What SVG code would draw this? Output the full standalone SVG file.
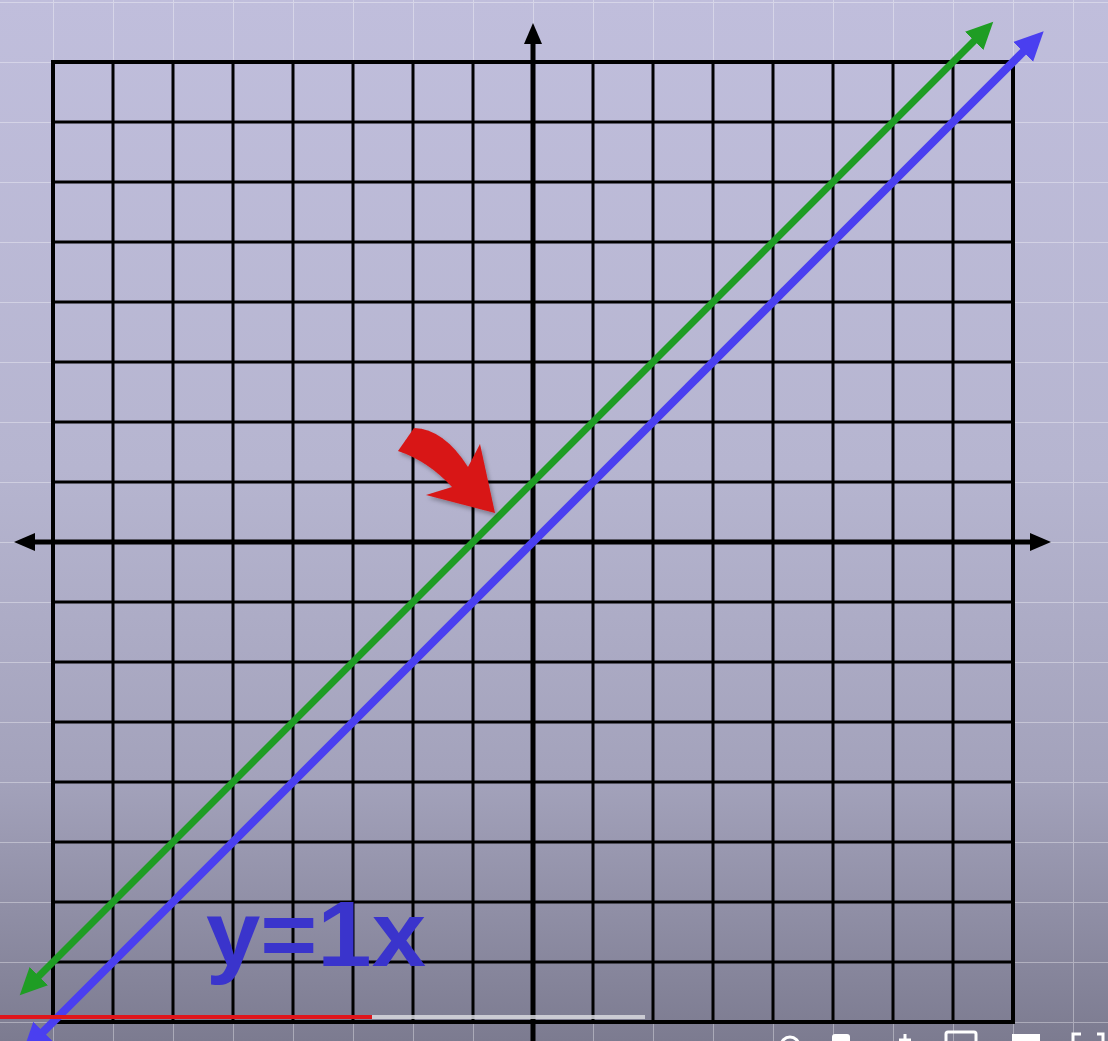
<svg xmlns="http://www.w3.org/2000/svg" width="1108" height="1041" viewBox="0 0 1108 1041">
<defs>
<linearGradient id="bg" x1="0" y1="0" x2="0" y2="1">
<stop offset="0" stop-color="#c0bedc"/>
<stop offset="0.45" stop-color="#b6b5d0"/>
<stop offset="0.75" stop-color="#a3a2bb"/>
<stop offset="1" stop-color="#7c7b90"/>
</linearGradient>
<pattern id="bgGrid" x="53" y="2" width="60" height="60" patternUnits="userSpaceOnUse">
<path d="M0,0 V60 M0,0 H60" fill="none" stroke="#ffffff" stroke-opacity="0.35" stroke-width="2"/>
</pattern>
<marker id="axisHead" viewBox="0 -10 22 20" refX="2" refY="0" markerWidth="22" markerHeight="20" markerUnits="userSpaceOnUse" orient="auto-start-reverse">
<path d="M0,-9 L21,0 L0,9 z" fill="#000"/>
</marker>
<marker id="greenHead" viewBox="0 -14 28 28" refX="4" refY="0" markerWidth="28" markerHeight="28" markerUnits="userSpaceOnUse" orient="auto-start-reverse">
<path d="M0,-13 L27,0 L0,13 z" fill="#1f9d24"/>
</marker>
<marker id="blueHead" viewBox="0 -15 30 30" refX="4" refY="0" markerWidth="30" markerHeight="30" markerUnits="userSpaceOnUse" orient="auto-start-reverse">
<path d="M0,-14 L29,0 L0,14 z" fill="#4a3ff0"/>
</marker>
<filter id="shadow" x="-20%" y="-20%" width="140%" height="140%">
<feDropShadow dx="2" dy="3" stdDeviation="2" flood-color="#000" flood-opacity="0.3"/>
</filter>
<style>
.grid{fill:none;stroke:#000;stroke-width:3}
.frame{fill:none;stroke:#000;stroke-width:4}
.axis{fill:none;stroke:#000;stroke-width:5}
.label{font-family:"Liberation Sans",Arial,sans-serif;font-weight:bold;fill:#3a34cc}
.ctrl{fill:none;stroke:#ffffff;stroke-width:3}
</style>
</defs>

<g id="background">
<rect x="0" y="0" width="1108" height="1041" fill="url(#bg)"/>
<rect x="0" y="0" width="1108" height="1041" fill="url(#bgGrid)"/>
</g>

<g id="grid">
<path class="grid" d="M113,62V1022 M173,62V1022 M233,62V1022 M293,62V1022 M353,62V1022 M413,62V1022 M473,62V1022 M593,62V1022 M653,62V1022 M713,62V1022 M773,62V1022 M833,62V1022 M893,62V1022 M953,62V1022
M53,122H1013 M53,182H1013 M53,242H1013 M53,302H1013 M53,362H1013 M53,422H1013 M53,482H1013 M53,602H1013 M53,662H1013 M53,722H1013 M53,782H1013 M53,842H1013 M53,902H1013 M53,962H1013"/>
<rect class="frame" x="53" y="62" width="960" height="960"/>
</g>

<g id="axes">
<line id="x-axis" class="axis" x1="33" y1="542" x2="1032" y2="542" marker-start="url(#axisHead)" marker-end="url(#axisHead)"/>
<line id="y-axis" class="axis" x1="533" y1="1041" x2="533" y2="42" marker-end="url(#axisHead)"/>
</g>

<g id="connectors">
<line id="green-line" x1="36" y1="979" x2="977" y2="38" stroke="#1f9d24" stroke-width="7" marker-start="url(#greenHead)" marker-end="url(#greenHead)"/>
<line id="blue-line" x1="40.4" y1="1034.6" x2="1026" y2="49" stroke="#4a3ff0" stroke-width="8" marker-start="url(#blueHead)" marker-end="url(#blueHead)"/>
</g>

<g id="pointer">
<path d="M414,428 Q444,429 468,467 L480,444 L495,513 L426,495 L452,487 Q428,461 398,451 Z" fill="#d81616" filter="url(#shadow)"/>
</g>

<g id="equation">
<text class="label" x="206" y="966" font-size="92" textLength="220" lengthAdjust="spacingAndGlyphs">y=1x</text>
</g>

<g id="progress">
<rect x="0" y="1015" width="372" height="4" fill="#e0161b"/>
<rect x="372" y="1015" width="273" height="4" fill="#d8d8de" fill-opacity="0.85"/>
</g>

<g id="controls">
<circle class="ctrl" cx="790" cy="1046" r="9"/>
<rect x="832" y="1034" width="18" height="14" rx="3" fill="#ffffff"/>
<path class="ctrl" d="M905,1034 V1041 M899,1040 H911"/>
<rect class="ctrl" x="946" y="1032" width="30" height="16" rx="2"/>
<rect x="1012" y="1034" width="28" height="10" fill="#ffffff"/>
<path class="ctrl" d="M1073,1041 V1034 H1081 M1097,1034 H1103 V1041"/>
</g>
</svg>
